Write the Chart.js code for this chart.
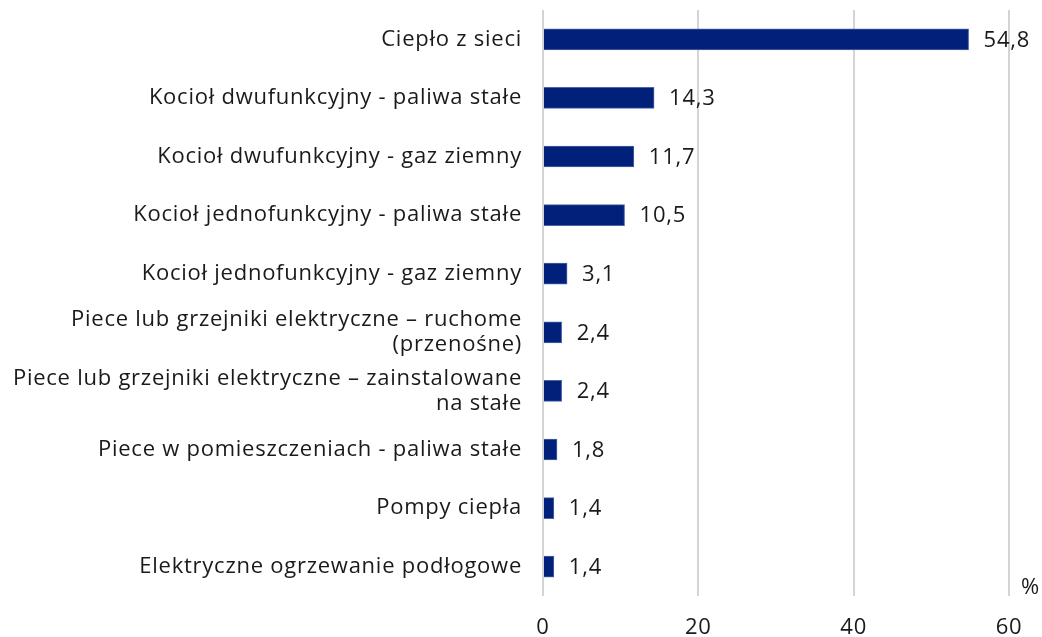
<!DOCTYPE html>
<html>
<head>
<meta charset="utf-8">
<script src="https://cdn.jsdelivr.net/npm/chart.js@4.4.1/dist/chart.umd.min.js"></script>
<style>
  body { margin: 0; background: #fff; }
  #wrap { width: 1042px; height: 637px; position: relative; }
</style>
</head>
<body>
<div id="wrap"><canvas id="heatChart"></canvas></div>
<script>
// dane z wykresu
const categories = [
  "Ciepło z sieci",
  "Kocioł dwufunkcyjny - paliwa stałe",
  "Kocioł dwufunkcyjny - gaz ziemny",
  "Kocioł jednofunkcyjny - paliwa stałe",
  "Kocioł jednofunkcyjny - gaz ziemny",
  ["Piece lub grzejniki elektryczne – ruchome", "(przenośne)"],
  ["Piece lub grzejniki elektryczne – zainstalowane", "na stałe"],
  "Piece w pomieszczeniach - paliwa stałe",
  "Pompy ciepła",
  "Elektryczne ogrzewanie podłogowe"
];
const shares = [54.8, 14.3, 11.7, 10.5, 3.1, 2.4, 2.4, 1.8, 1.4, 1.4];
const xTicks = [0, 20, 40, 60];
const unitLabel = "%";

const FONT = "'Open Sans', sans-serif";
const SIZE = 22;
const LS = "0.75px";

// trochę szerszy krój, żeby zbliżyć się do oryginału
const spacing = {
  id: "spacing",
  beforeDraw(chart) { chart.ctx.letterSpacing = LS; }
};

// etykiety wartości i jednostka
const valueLabels = {
  id: "valueLabels",
  afterDatasetsDraw(chart) {
    const ctx = chart.ctx;
    const meta = chart.getDatasetMeta(0);
    ctx.save();
    ctx.letterSpacing = LS;
    ctx.font = SIZE + "px " + FONT;
    ctx.fillStyle = "#1a1a1a";
    ctx.textBaseline = "middle";
    ctx.textAlign = "left";
    meta.data.forEach((bar, i) => {
      ctx.fillText(shares[i].toLocaleString("pl-PL"), bar.x + 15, bar.y + 1);
    });
    ctx.fillText(unitLabel, chart.chartArea.right + 12, chart.chartArea.bottom - 8);
    ctx.restore();
  }
};

const ctx = document.getElementById("heatChart").getContext("2d");
new Chart(ctx, {
  type: "bar",
  data: {
    labels: categories,
    datasets: [
      {
        data: shares,
        backgroundColor: "#00207a",
        borderColor: "#4a64a8",
        borderWidth: 1,
        barThickness: 21
      }
    ]
  },
  options: {
    indexAxis: "y",
    responsive: true,
    maintainAspectRatio: false,
    animation: false,
    layout: { padding: { top: 10, right: 33, bottom: 0, left: 0 } },
    plugins: {
      legend: { display: false },
      tooltip: { enabled: false }
    },
    scales: {
      x: {
        min: 0,
        max: 60,
        afterBuildTicks(scale) {
          scale.ticks = xTicks.map(v => ({ value: v }));
        },
        border: { display: false },
        grid: { color: "#d4d4d4", lineWidth: 2, drawTicks: false },
        ticks: {
          color: "#1a1a1a",
          font: { family: FONT, size: SIZE },
          padding: 19
        },
        afterFit(scale) {
          scale.height = 41;
          scale.paddingLeft = 0;
          scale.paddingRight = 0;
        }
      },
      y: {
        border: { display: false },
        grid: { display: false, drawTicks: false },
        ticks: {
          color: "#1a1a1a",
          font: { family: FONT, size: SIZE, lineHeight: 1.15 },
          padding: 21
        },
        afterFit(scale) {
          scale.width = 543;
          scale.paddingTop = 0;
          scale.paddingBottom = 0;
        }
      }
    }
  },
  plugins: [spacing, valueLabels]
});
</script>
</body>
</html>
